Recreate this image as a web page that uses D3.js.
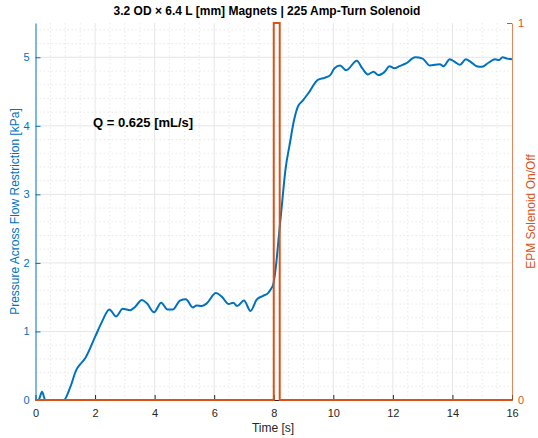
<!DOCTYPE html>
<html>
<head>
<meta charset="utf-8">
<script src="https://cdn.jsdelivr.net/npm/d3@7"></script>
<style>
  html, body { margin: 0; padding: 0; background: #fff; }
  svg { display: block; font-family: "Liberation Sans", Arial, Helvetica, sans-serif; }
</style>
</head>
<body>
<svg id="chart" width="538" height="438"></svg>
<script>
// Pressure trace across the flow restriction (kPa) over time (s)
const pressureTime = [0, 0.1, 0.22, 0.33, 0.5, 0.95, 1.17, 1.37, 1.5, 1.67, 2.0, 2.23, 2.48, 2.71, 2.93, 3.18,
  3.35, 3.57, 3.74, 3.98, 4.22, 4.43, 4.61, 4.85, 5.05, 5.28, 5.41, 5.58, 5.75, 6.06, 6.25, 6.49, 6.64, 6.77,
  7.0, 7.22, 7.42, 7.64, 7.81, 7.92, 7.98, 8.07, 8.18, 8.29, 8.39, 8.54, 8.68, 8.81, 8.98, 9.2, 9.48, 9.71,
  9.9, 10.04, 10.23, 10.43, 10.79, 10.97, 11.16, 11.35, 11.51, 11.75, 11.88, 12.05, 12.22, 12.44, 12.75, 13.0,
  13.24, 13.58, 13.7, 13.91, 14.09, 14.25, 14.45, 14.62, 14.81, 14.99, 15.21, 15.43, 15.57, 15.68, 15.84, 16.0];
const pressureKPa = [0, 0, 0.12, 0, 0, 0, 0.19, 0.44, 0.52, 0.61, 0.92, 1.14, 1.32, 1.22, 1.33, 1.31,
  1.36, 1.46, 1.41, 1.28, 1.42, 1.32, 1.32, 1.45, 1.47, 1.35, 1.38, 1.37, 1.41, 1.56, 1.51, 1.40, 1.42, 1.37,
  1.45, 1.30, 1.46, 1.52, 1.56, 1.63, 1.68, 1.94, 2.43, 2.92, 3.35, 3.74, 4.08, 4.28, 4.37, 4.50, 4.67, 4.70,
  4.74, 4.84, 4.88, 4.81, 4.95, 4.84, 4.75, 4.79, 4.74, 4.80, 4.87, 4.84, 4.87, 4.91, 5.00, 4.98,
  4.88, 4.90, 4.87, 4.97, 4.93, 4.89, 4.97, 4.93, 4.87, 4.86, 4.92, 4.97, 4.96, 5.00, 4.98, 4.97];

// Solenoid drive state (0 = off, 1 = on)
const solenoidTime = [0, 8.0, 8.0, 8.2, 8.2, 16];
const solenoidState = [0, 0, 1, 1, 0, 0];

const timeTicks = [0, 2, 4, 6, 8, 10, 12, 14, 16];
const pressureTicks = [0, 1, 2, 3, 4, 5];
const stateTicks = [0, 1];

const titleText = "3.2 OD \u00d7 6.4 L [mm] Magnets | 225 Amp-Turn Solenoid";
const flowNote = "Q = 0.625 [mL/s]";

const BLUE = "#0072BD", ORANGE = "#D95319", DARK = "#262626";

const svg = d3.select("#chart");
const m = { left: 35.5, right: 512, top: 23, bottom: 400 };

const x = d3.scaleLinear().domain([0, 16]).range([m.left, m.right]);
const yL = d3.scaleLinear().domain([0, 5.5]).range([m.bottom, m.top]);
const yR = d3.scaleLinear().domain([0, 1]).range([m.bottom, m.top]);

// Grid: dotted minor lines, then solid major lines
const grid = svg.append("g");
const minorX = d3.range(0, 16.001, 0.5).filter(v => v % 2 !== 0);
const minorY = d3.range(0, 5.501, 0.2).map(v => +v.toFixed(1)).filter(v => Math.abs(v - Math.round(v)) > 1e-6);
grid.selectAll(".mx").data(minorX).join("line")
  .attr("x1", d => x(d)).attr("x2", d => x(d)).attr("y1", m.top).attr("y2", m.bottom)
  .attr("stroke", "#e3e3e3").attr("stroke-width", 0.8).attr("stroke-dasharray", "1.5,2.5");
grid.selectAll(".my").data(minorY).join("line")
  .attr("x1", m.left).attr("x2", m.right).attr("y1", d => yL(d)).attr("y2", d => yL(d))
  .attr("stroke", "#e3e3e3").attr("stroke-width", 0.8).attr("stroke-dasharray", "1.5,2.5");
grid.selectAll(".gx").data(timeTicks.slice(1, -1)).join("line")
  .attr("x1", d => x(d)).attr("x2", d => x(d)).attr("y1", m.top).attr("y2", m.bottom)
  .attr("stroke", "#e6e6e6").attr("stroke-width", 1);
grid.selectAll(".gy").data(pressureTicks.slice(1)).join("line")
  .attr("x1", m.left).attr("x2", m.right).attr("y1", d => yL(d)).attr("y2", d => yL(d))
  .attr("stroke", "#e6e6e6").attr("stroke-width", 1);

// Axes (ticks point inward)
const xAxis = svg.append("g").attr("transform", `translate(0,${m.bottom})`)
  .call(d3.axisBottom(x).tickValues(timeTicks).tickFormat(d3.format("d")).tickSizeInner(-5).tickSizeOuter(0).tickPadding(9));
xAxis.select(".domain").attr("stroke", DARK);
xAxis.selectAll(".tick line").attr("stroke", DARK);
xAxis.selectAll("text").attr("fill", DARK).attr("font-size", 11);

const leftAxis = svg.append("g").attr("transform", `translate(${m.left},0)`)
  .call(d3.axisLeft(yL).tickValues(pressureTicks).tickFormat(d3.format("d")).tickSizeInner(-5).tickSizeOuter(0).tickPadding(6));
leftAxis.select(".domain").attr("stroke", BLUE);
leftAxis.selectAll(".tick line").attr("stroke", BLUE);
leftAxis.selectAll("text").attr("fill", BLUE).attr("font-size", 11);

const rightAxis = svg.append("g").attr("transform", `translate(${m.right},0)`)
  .call(d3.axisRight(yR).tickValues(stateTicks).tickFormat(d3.format("d")).tickSizeInner(-5).tickSizeOuter(0).tickPadding(6));
rightAxis.select(".domain").attr("stroke", ORANGE).attr("stroke-opacity", 0.7);
rightAxis.selectAll(".tick line").attr("stroke", ORANGE);
rightAxis.selectAll("text").attr("fill", ORANGE).attr("font-size", 11);

// Pressure trace
const pressurePts = pressureTime.map((t, i) => [t, pressureKPa[i]]);
svg.append("path").datum(pressurePts)
  .attr("fill", "none").attr("stroke", BLUE).attr("stroke-width", 2).attr("stroke-linejoin", "round")
  .attr("d", d3.line().x(d => x(d[0])).y(d => yL(d[1])).curve(d3.curveMonotoneX));

// Solenoid state
const statePts = solenoidTime.map((t, i) => [t, solenoidState[i]]);
svg.append("path").datum(statePts)
  .attr("fill", "none").attr("stroke", ORANGE).attr("stroke-width", 2)
  .attr("d", d3.line().x(d => x(d[0])).y(d => yR(d[1])));

// Labels
svg.append("text").attr("x", 267).attr("y", 15).attr("text-anchor", "middle")
  .attr("font-size", 12).attr("font-weight", "bold").attr("fill", "#000").text(titleText);
svg.append("text").attr("x", 273).attr("y", 432).attr("text-anchor", "middle")
  .attr("font-size", 12).attr("fill", DARK).text("Time [s]");
svg.append("text").attr("transform", `translate(19,${(m.top + m.bottom) / 2}) rotate(-90)`)
  .attr("text-anchor", "middle").attr("font-size", 12).attr("fill", BLUE)
  .text("Pressure Across Flow Restriction [kPa]");
svg.append("text").attr("transform", `translate(535,${(m.top + m.bottom) / 2}) rotate(-90)`)
  .attr("text-anchor", "middle").attr("font-size", 12).attr("fill", ORANGE)
  .text("EPM Solenoid On/Off");
svg.append("text").attr("x", x(2.0)).attr("y", yL(3.98)).attr("text-anchor", "start")
  .attr("dx", -2).attr("font-size", 13).attr("font-weight", "bold").attr("fill", "#000").text(flowNote);
</script>
</body>
</html>
